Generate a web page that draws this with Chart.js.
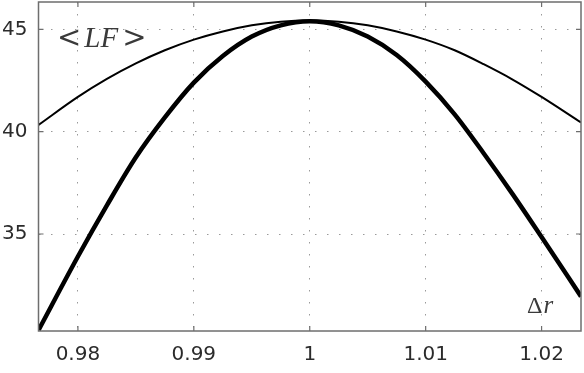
<!DOCTYPE html>
<html>
<head>
<meta charset="utf-8">
<script src="https://cdn.jsdelivr.net/npm/chart.js@4/dist/chart.umd.min.js"></script>
<style>
  html, body { margin: 0; padding: 0; background: #fff; }
  #wrap { width: 584px; height: 373px; }
</style>
</head>
<body>
<div id="wrap"><canvas id="grafico" width="584" height="373"></canvas></div>
<script>
// valores
const deltaR = [0.9766, 0.98, 0.9825, 0.985, 0.9875, 0.99, 0.9925, 0.995, 0.9975, 1.0,
                1.0025, 1.005, 1.0075, 1.01, 1.0125, 1.015, 1.0175, 1.02, 1.0234];
const curvaFina = [40.33, 41.7, 42.58, 43.34, 43.98, 44.5, 44.9, 45.2, 45.38, 45.44,
                   45.38, 45.2, 44.9, 44.5, 43.98, 43.3, 42.55, 41.7, 40.45];
const curvaGrossa = [30.3, 33.9, 36.4, 38.75, 40.7, 42.4, 43.7, 44.65, 45.2, 45.4,
                     45.2, 44.65, 43.75, 42.45, 40.85, 38.95, 36.95, 34.85, 31.95];
const xTicks = [0.98, 0.99, 1, 1.01, 1.02];
const yTicks = [35, 40, 45];

const toPts = ys => deltaR.map((x, i) => ({ x: x, y: ys[i] }));

/* moldura + ticks para dentro + textos */
const molduraPlugin = {
    id: 'moldura',
    afterDraw(chart) {
        const { ctx, chartArea: a, scales } = chart;
        ctx.save();
        ctx.strokeStyle = '#6e6e6e';
        ctx.lineWidth = 1.5;
        ctx.strokeRect(a.left, a.top, a.right - a.left, a.bottom - a.top);
        ctx.lineWidth = 1.2;
        ctx.beginPath();
        xTicks.forEach(v => {
            const px = scales.x.getPixelForValue(v);
            ctx.moveTo(px, a.bottom); ctx.lineTo(px, a.bottom - 5);
            ctx.moveTo(px, a.top); ctx.lineTo(px, a.top + 5);
        });
        yTicks.forEach(v => {
            const py = scales.y.getPixelForValue(v);
            ctx.moveTo(a.left, py); ctx.lineTo(a.left + 5, py);
            ctx.moveTo(a.right, py); ctx.lineTo(a.right - 5, py);
        });
        ctx.stroke();

        // <LF>
        ctx.fillStyle = '#3a3a3a';
        ctx.textBaseline = 'alphabetic';
        let x = 57, y = 47;
        ctx.font = '29px "DejaVu Serif", "Liberation Serif", serif';
        ctx.fillText('<', x, y);
        x += ctx.measureText('<').width + 3;
        ctx.font = 'italic 29px "Liberation Serif", "DejaVu Serif", serif';
        ctx.fillText('LF', x, y);
        x += ctx.measureText('LF').width + 4;
        ctx.font = '29px "DejaVu Serif", "Liberation Serif", serif';
        ctx.fillText('>', x, y);

        // Δr
        x = 527; y = 313;
        ctx.font = '24px "Liberation Serif", "DejaVu Serif", serif';
        ctx.fillText('\u0394', x, y);
        x += ctx.measureText('\u0394').width + 1;
        ctx.font = 'italic 25px "Liberation Serif", "DejaVu Serif", serif';
        ctx.fillText('r', x, y);
        ctx.restore();
    }
};

const ctx = document.getElementById('grafico').getContext('2d');
const grafico = new Chart(ctx, {
    type: 'line',
    data: {
        datasets: [
            {
                label: 'fina',
                data: toPts(curvaFina),
                borderColor: '#000',
                borderWidth: 2,
                pointRadius: 0,
                cubicInterpolationMode: 'monotone',
                fill: false
            },
            {
                label: 'grossa',
                data: toPts(curvaGrossa),
                borderColor: '#000',
                borderWidth: 4.5,
                pointRadius: 0,
                cubicInterpolationMode: 'monotone',
                fill: false
            }
        ]
    },
    options: {
        responsive: false,
        animation: false,
        layout: { padding: { left: 0, right: 3, top: 2, bottom: 0 } },
        plugins: {
            legend: { display: false },
            tooltip: { enabled: false }
        },
        scales: {
            x: {
                type: 'linear',
                min: 0.9766,
                max: 1.0234,
                afterBuildTicks: s => { s.ticks = xTicks.map(v => ({ value: v })); },
                afterFit: s => { s.height = 42; s.paddingLeft = 0; s.paddingRight = 0; },
                ticks: {
                    padding: 12,
                    color: '#2b2b2b',
                    font: { family: '"DejaVu Sans", sans-serif', size: 20 },
                    maxRotation: 0,
                    callback: v => String(Number(v.toFixed(2)))
                },
                grid: { color: '#9a9a9a', lineWidth: 1, drawTicks: false },
                border: { display: false, dash: [1.5, 10.5] }
            },
            y: {
                min: 30.26,
                max: 46.34,
                afterBuildTicks: s => { s.ticks = yTicks.map(v => ({ value: v })); },
                afterFit: s => { s.width = 38.5; s.paddingTop = 0; s.paddingBottom = 0; },
                ticks: {
                    padding: 11,
                    color: '#2b2b2b',
                    font: { family: '"DejaVu Sans", sans-serif', size: 20 }
                },
                grid: { color: '#9a9a9a', lineWidth: 1, drawTicks: false },
                border: { display: false, dash: [1.5, 10.5] }
            }
        }
    },
    plugins: [molduraPlugin]
});
</script>
</body>
</html>
